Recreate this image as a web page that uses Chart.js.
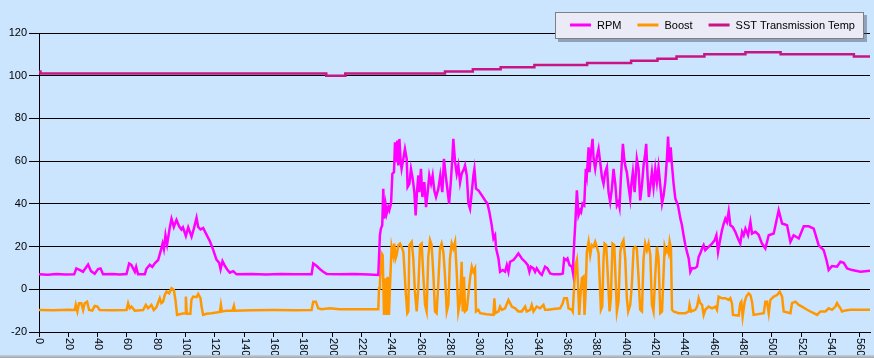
<!DOCTYPE html>
<html><head><meta charset="utf-8">
<script src="https://cdn.jsdelivr.net/npm/chart.js@4.4.1/dist/chart.umd.min.js"></script>
<style>
html,body{margin:0;padding:0;background:#cce5ff;overflow:hidden}
#wrap{position:relative;width:874px;height:358px}
#strip{position:absolute;left:0;bottom:0;width:874px;height:3px;background:linear-gradient(#c6ced8,#9ea6b0)}
canvas{display:block}
</style></head>
<body><div id="wrap"><canvas id="c" width="874" height="358"></canvas><div id="strip"></div></div>
<script>
// ---- data ----
const seriesNames = ['RPM', 'Boost', 'SST Transmission Temp'];
const xTicks = [0,20,40,60,80,100,120,140,160,180,200,220,240,260,280,300,320,340,360,380,400,420,440,460,480,500,520,540,560];
const yTicks = [-20,0,20,40,60,80,100,120];

const rpmT = [0,6,12,18,24,25.5,28,30,33.5,35.5,38,40.3,42,43.7,50,55,59.7,61.5,63,65.4,66.3,67.6,72.2,73.3,75.6,77.3,79,81.3,82.9,84.3,85.2,86.3,87.4,89.3,90.4,92,93.8,95.6,97.2,98.2,100.2,101.8,104.1,105.7,107.5,108.6,110.2,112,114.3,116.6,118.8,121.1,122.9,123.9,125.2,126.8,128.4,130.2,132.5,134.8,145,155,165,175,186,187.1,189.3,191.6,193.9,196.3,205,215,225,231.5,
232.6,233.3,234.2,234.9,235.6,236.5,237.2,238.3,239,240.2,241.1,242.2,242.9,243.6,244.5,245.2,245.9,246.8,247.4,248.6,249.7,250.9,251.5,252.7,253.8,255,256.1,257,257.9,258.8,259.5,260.6,261.6,262.9,264.1,265.2,266.3,267.5,268.6,269.7,270.9,272.5,273.8,275.2,276.3,277.5,278.6,279.8,280.9,282,282.7,283.9,285,286.1,287.3,288.4,290,290.7,291.9,293,294.1,295.3,296.4,297.1,298.2,299.8,302.1,304.4,306,307.3,308.9,310.1,311.2,311.9,313.5,314.6,316.4,318,319.2,320.3,321.4,323.7,325.5,327.1,329.4,331.7,333.5,334.6,335.6,337.4,338.5,339.6,341.9,343.1,345.3,346.9,348.8,351,355.6,
357.4,358.3,359.7,360.6,362,363.6,364.2,365.2,366.1,367,368.1,369.3,369.9,370.9,372,373.1,373.8,375,375.6,376.5,377.7,378.4,379.5,380.6,381.8,382.9,384.1,385.2,386.3,387.5,388.6,389.7,390.9,392,393.2,394.3,395.4,396.1,397,398.4,399.3,400.2,401.1,402.3,403.4,404.1,405.2,406.4,407.9,409.1,410.2,411.4,412.5,413.6,414.3,415.2,416.1,417.1,418.2,419.3,420.5,421.6,422.7,423.9,425.1,426.2,427.3,428.5,429.2,430.1,431,431.9,433,434.2,436,437.6,438.7,439.8,441,442.1,443.3,444.4,445.5,447.4,449,450.1,451.2,452.4,453.5,454.6,456.9,459.2,461,462.2,463.3,464.9,466,467.2,468.3,469.4,470.6,471.7,473.3,475.1,476.9,478.5,479.7,480.8,482,483.8,485.4,486.5,488.8,491,493.3,495.6,497.9,501.3,504.7,507,510.4,512.7,514.9,518.4,521.8,525.2,528.6,532,535.4,537.3,538.8,541.1,544.5,546.8,549.1,551.4,554.8,560.5,567];
const rpmV = [7,6.8,7.1,6.9,7,9.8,9,8.2,11.6,8.5,7.3,9.5,9.8,7,7.2,6.9,7.1,12.1,11.4,8.2,10.5,7,7,9.6,11.5,10.5,12.2,13.7,17.6,21.4,18.8,25.3,21,29.2,33,29.2,32.5,29.5,28,29,25,29,24.6,28.5,33.5,29.2,28,28.7,25.6,22.5,18.6,13.9,12.4,9.3,13.2,11,9.3,7.8,8.5,7,7.1,6.9,7.1,7,7,12.1,11,9.5,8.2,7.2,7,7.1,6.9,6.7,
25.3,28.4,30,47.1,33.1,39.3,35.4,38.5,37,40.1,54.1,54.8,68.8,59.5,69.6,58,70.4,59.5,56.4,61.1,65.7,61.1,47.9,49.4,56.4,51.7,45.5,34.6,45.5,53.3,45.5,56.4,43.2,50.2,38.5,45.5,53.3,49.4,53.3,46.3,43.2,47.1,53.3,45.5,61.1,53.3,47.1,40.1,49.4,61.1,70.4,59.5,54.1,58,50,54.1,56.4,58,53.3,40.1,37.7,45.5,53.3,56.4,47.1,46.3,44,41.6,40.1,36.2,30,23.8,25.3,19.1,14.4,8.2,9,8.2,11.3,8.2,12.9,13.7,15.2,16.8,14.4,12.9,11.3,8.2,10.6,9.8,8.2,9.8,7.4,6.7,10.6,9.8,7.4,7,7,
7.4,14.4,13.7,14.4,11.3,10.6,8.2,22.2,33.1,46.3,34.6,37,36.2,40.1,39.3,56.4,53.3,66.5,54.8,63.4,70.4,61.1,56.4,61.8,65.7,59.5,52.5,49.4,54.8,57.2,45.5,40.9,47.1,56.4,49.4,39.3,40.9,38.5,51.7,68.1,61.1,57.2,54.8,47.9,42.4,48.6,54.8,45.5,61.1,56.4,41.6,48.6,58,63.4,68.1,53.3,43.2,48.6,54.8,47.9,56.4,50.2,57.2,48.6,40.1,44,50.2,61.8,71.5,59.5,66.5,58,49.4,42.4,39.3,33.1,30,25.3,20.7,17.5,14.4,8.2,9.8,9.8,10.6,15.2,16.8,19.1,20.7,18.3,19.9,21.4,23,25.3,17.5,23.8,27.6,30.8,33.1,31.5,36.5,30,29.2,26.9,23.8,21.4,26.9,25.3,28.4,25.3,31.5,26.1,26.9,25.5,21.4,19.1,25.3,26.1,37,30.8,30,22.2,25.3,23.8,29.5,29.5,28.4,20.6,18.3,13.7,9,10.9,10.6,12.9,12.4,9.8,9,8.2,8.7];

const boostT = [0,10,20,24.4,25.1,26.2,27.3,28.9,30.1,31.2,32.8,34.2,36.4,38,39.9,41.4,50,59.7,60.8,61.9,63.1,65.3,71,72.9,74.4,76.7,78.3,80.1,82.4,83.5,84.7,85.8,87,88.8,90.4,92,93.1,94.2,97.2,99.7,100.2,100.8,103.3,104,105.2,107.5,108.6,110.2,110.9,112,114.3,117.7,123.4,124.1,124.8,128,132,133,133.6,145,160,175,186,187.1,188.9,190.5,192.8,198.5,205,215,225,231.5,
232,232.6,233.8,234.5,235.4,236.5,237.2,237.9,238.8,239.7,240.6,241.7,242.4,243.3,244,245.2,246.3,247.4,248.6,249.3,250.2,251.3,252,252.7,254.3,255.4,256.5,257.7,258.8,260,261.1,262.2,263.4,264.5,265.6,266.8,267.9,269.1,270.2,271.3,272.5,273.6,274.7,275.9,277,278.2,279.3,280.4,281.6,282.7,283.9,285,286.1,287.3,288.4,289.1,290,290.7,291.9,294.1,295.3,296.4,297.5,298.2,299.8,301,305.5,310.1,310.7,311.4,313.5,314.6,315.8,318,320.3,321.4,322.6,324.9,327.1,329.4,331.7,332.8,335.1,336.2,337.4,339.6,341.9,344.2,345.3,347.6,351,355.6,
357.4,358.3,360.2,361.3,363.6,364.2,365.2,366.1,367,367.7,368.6,369.3,370.4,371.5,372.2,372.9,373.8,375,376.1,377.2,378.4,379.5,380.6,381.8,382.5,383.4,384.3,385.2,385.9,387,388.1,389.3,390.2,391.3,392.5,393.4,394.3,395.4,396.6,397.7,398.8,400,401.1,402,403.4,404.5,405.7,406.8,407.9,409.1,410.2,411.4,412.5,413.6,414.8,415.9,417.1,418.2,419.3,420.5,421.6,422.7,423.9,425.1,426.2,426.9,427.8,428.7,429.6,430.3,431.2,431.9,433,436.4,441,443.3,443.9,444.9,447.8,449,450.1,451.2,452.4,453.5,454.6,456.9,459.2,461.5,462.6,463.7,466,468.3,470.6,471.7,472.8,473.5,477.4,478.5,479.2,480.1,481.5,482.6,484.2,485.4,486.5,487.6,494.5,495.6,496.7,497.9,499,501.3,503.6,505.4,507,508.1,512.7,513.8,516.1,518.4,520.6,524.1,526.3,528.6,530.9,533.2,536.6,538.8,541.1,543.4,544.5,545.7,546.8,547.9,550.2,553.6,560.5,567];
const boostV = [-9.7,-9.8,-9.6,-9.7,-7.3,-10.4,-6.5,-6.5,-9.7,-6.5,-5.8,-9.7,-10,-7.8,-8.1,-9.7,-9.8,-9.7,-6.5,-8.9,-8.1,-10,-9.7,-7.3,-8.9,-7.3,-9.7,-8.4,-4.2,-6.5,-5.8,-2.7,-1.1,-1.9,0.5,-0.3,-5,-12,-11.5,-11.2,-3.4,-11.5,-11.5,-5,-3.4,-3.7,-2.2,-4.2,-8.1,-12,-11.5,-11.2,-10.6,-7.3,-10.4,-10,-10,-7.8,-10,-9.8,-9.7,-9.8,-9.7,-5.8,-5.8,-8.9,-9.3,-8.9,-9.4,-9.4,-9.3,-9.3,
0.5,2.8,16.8,16,-12,5.1,-12,5.9,-12,5.1,19.9,16,21.4,14.4,16,20.7,21.4,19.9,17.5,9.8,-1.1,-11.2,-10.4,20.7,22.2,14.4,-1.1,-10.4,0.5,20.7,21.4,6.7,-7.3,-10.4,15.2,23,20.7,6.7,-10.4,-11.2,3.6,19.1,21.4,17.5,6.7,-10.4,-7.3,14.4,21.4,19.1,22.2,8.2,-10.4,-5.8,12.9,-10.4,5.9,-10.4,-9.6,5.1,10.6,8.2,9.8,-10.4,-9.6,-11.2,-11.7,-12,-4.2,-11.2,-10.4,-8.1,-9.6,-8.9,-5,-6.5,-8.1,-8.9,-10.4,-10.4,-8.1,-10.4,-9.6,-7.3,-10.4,-8.1,-8.9,-7.3,-9.6,-9.6,-9.2,-8.9,
-6.5,-4.2,-4.2,-8.9,-9.6,-10.4,2,11.3,13.7,3.6,-12,-4.2,5.1,5.9,-12,-2.7,17.5,22.2,16,20.7,19.9,22.2,19.9,16.8,5.1,-9.6,-8.1,14.4,21.4,20.7,6.7,-10.4,-4.2,21.4,20.7,5.1,-10.4,-5.8,17.5,21.4,23,14.4,-4.2,-10.4,-7.3,2,19.1,19.9,19.1,5.1,-9.6,-10.4,14.4,21.4,18.3,21.4,16,-7.3,-10.4,6.7,19.9,14.4,-11.2,-10.4,8.2,19.9,17.5,19.1,16.8,22.2,19.1,-9.6,-10.4,-11.2,-11.2,-10.4,-7.3,-10.4,-9.6,-8.1,-4.2,-6.5,-7.3,-12,-9.6,-8.1,-8.9,-8.1,-9.6,-3.4,-4.2,-4.2,-5,-4.2,-6.5,-12,-12.3,-6.5,-5.8,-12.8,-5.8,-3.4,-1.9,-2.7,-5.8,-12,-11.2,-5.8,-5.8,-11.2,-5,-3.4,-2.7,-1.1,-3.4,-10.4,-11.2,-6.5,-5.8,-7.3,-8.1,-9.6,-10.4,-11.2,-12,-10.4,-10.4,-8.9,-9.6,-8.1,-6.5,-7.8,-8.9,-10.4,-9.9,-9.6,-9.6,-9.6];

const tempT = [0,1,196,209,277,296,315,338,374,404,422,435,454,482,506,556,567];
const tempV = [102,101,100,101,102,103,104,105,106,107,108,109,110,111,110,109,109];

// ---- chart ----
const FONT = 'Liberation Sans, Arial, sans-serif';
const pts = (t, v) => t.map((x, i) => ({x: x, y: v[i]}));

const customDraw = {
  id: 'customDraw',
  afterDraw(chart) {
    const ctx = chart.ctx;
    const xs = chart.scales.x;
    // rotated x tick labels (clockwise, reading downward)
    ctx.save();
    ctx.fillStyle = '#000';
    ctx.font = '11px ' + FONT;
    ctx.textAlign = 'left';
    ctx.textBaseline = 'middle';
    xTicks.forEach(v => {
      const px = xs.getPixelForValue(v);
      ctx.save();
      ctx.translate(px + 0.5, xs.top + 6);
      ctx.rotate(Math.PI / 2);
      ctx.fillText(String(v), 0, 0);
      ctx.restore();
    });
    ctx.restore();

    // floating legend box
    const bx = 555, by = 12, bw = 309, bh = 27;
    ctx.save();
    ctx.fillStyle = 'rgba(70,80,100,0.45)';
    ctx.fillRect(bx + 3, by + 3, bw, bh);
    ctx.fillStyle = '#ebebf7';
    ctx.fillRect(bx, by, bw, bh);
    ctx.strokeStyle = '#808080';
    ctx.lineWidth = 1;
    ctx.strokeRect(bx + 0.5, by + 0.5, bw - 1, bh - 1);
    ctx.font = '11px ' + FONT;
    ctx.textBaseline = 'middle';
    ctx.textAlign = 'left';
    let x = 570;
    const ly = by + 13;
    chart.data.datasets.forEach(ds => {
      ctx.strokeStyle = ds.borderColor;
      ctx.lineWidth = 3;
      ctx.beginPath();
      ctx.moveTo(x, ly);
      ctx.lineTo(x + 21, ly);
      ctx.stroke();
      ctx.fillStyle = '#000';
      ctx.fillText(ds.label, x + 27, ly + 1);
      x = x + 27 + ctx.measureText(ds.label).width + 16;
    });
    ctx.restore();
  }
};

new Chart(document.getElementById('c'), {
  type: 'line',
  data: {
    datasets: [
      {label: seriesNames[0], data: pts(rpmT, rpmV), borderColor: '#ff00ff', borderWidth: 2.5, pointRadius: 0, tension: 0, fill: false},
      {label: seriesNames[1], data: pts(boostT, boostV), borderColor: '#ff9800', borderWidth: 2.5, pointRadius: 0, tension: 0, fill: false},
      {label: seriesNames[2], data: pts(tempT, tempV), borderColor: '#c71585', borderWidth: 2.5, pointRadius: 0, stepped: true, fill: false}
    ]
  },
  options: {
    responsive: false,
    animation: false,
    events: [],
    layout: {padding: {top: 33, right: 4, left: 0, bottom: 0}},
    plugins: {legend: {display: false}, tooltip: {enabled: false}},
    scales: {
      x: {
        type: 'linear', min: 0, max: 567,
        afterBuildTicks: s => { s.ticks = xTicks.map(v => ({value: v})); },
        ticks: {display: false},
        grid: {drawOnChartArea: false, drawTicks: true, tickLength: 5, color: '#000', lineWidth: 1},
        border: {display: true, color: '#000', width: 1},
        afterFit: s => { s.height = 26; }
      },
      y: {
        min: -20, max: 120,
        afterBuildTicks: s => { s.ticks = yTicks.map(v => ({value: v})); },
        ticks: {color: '#000', font: {family: FONT, size: 11}, padding: 2},
        grid: {color: '#000', lineWidth: 1, tickLength: 10},
        border: {display: true, color: '#000', width: 1},
        afterFit: s => { s.width = 39; }
      }
    }
  },
  plugins: [customDraw]
});
</script>
</body></html>
